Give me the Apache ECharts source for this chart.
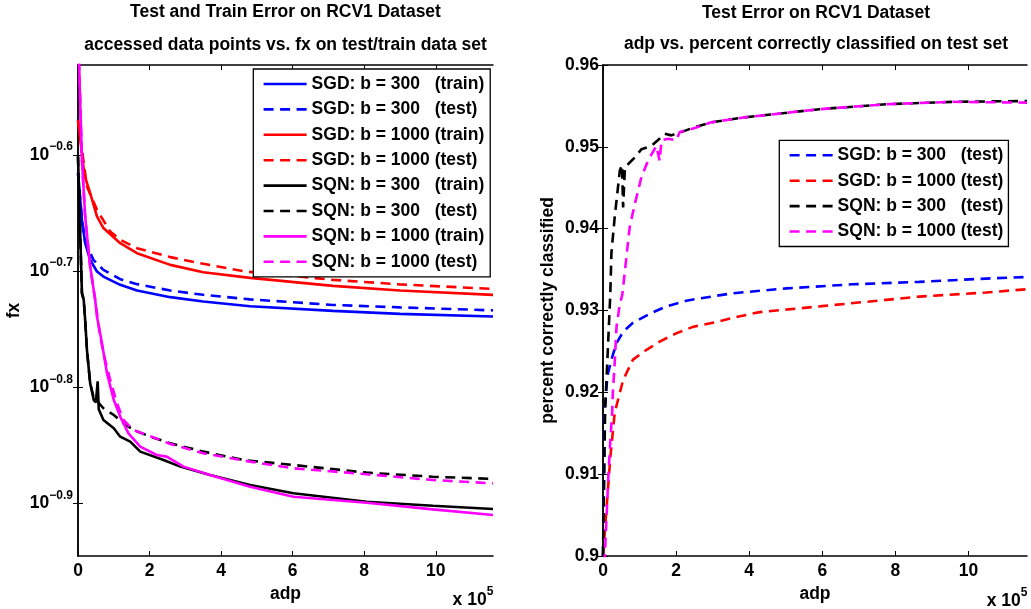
<!DOCTYPE html>
<html>
<head>
<meta charset="utf-8">
<script src="https://cdn.jsdelivr.net/npm/echarts@6/dist/echarts.min.js"></script>
<style>
html,body{margin:0;padding:0;background:#fff;}
#chart{width:1031px;height:609px;}
</style>
</head>
<body>
<div id="chart"></div>
<script>
// ---------- Tick values ----------
const xTickValues = [0, 2, 4, 6, 8, 10];           // adp, in units of 10^5
const leftYTickExponents = [-0.9, -0.8, -0.7, -0.6]; // fx ticks: 10^e
const rightYTicks = [0.9, 0.91, 0.92, 0.93, 0.94, 0.95, 0.96];

// ---------- Series names ----------
const names = [
  'SGD: b = 300   (train)', 'SGD: b = 300   (test)',
  'SGD: b = 1000 (train)', 'SGD: b = 1000 (test)',
  'SQN: b = 300   (train)', 'SQN: b = 300   (test)',
  'SQN: b = 1000 (train)', 'SQN: b = 1000 (test)'
];
const rightNames = ['SGD: b = 300   (test)', 'SGD: b = 1000 (test)', 'SQN: b = 300   (test)', 'SQN: b = 1000 (test)'];

// ---------- Left chart: adp (x 10^5) vs log10(fx) ----------
const sgd300TrainX = [0, 0.11, 0.20, 0.34, 0.53, 0.71, 1.18, 1.65, 2.58, 3.50, 4.81, 7.13, 9.0, 11.6];
const sgd300TrainLogFx = [-0.6155, -0.6558, -0.6759, -0.6903, -0.7003, -0.7047, -0.7118, -0.7167, -0.7224, -0.7262, -0.7303, -0.7342, -0.7368, -0.7391];

const sgd300TestX = [0, 0.11, 0.20, 0.43, 0.71, 1.18, 1.65, 2.58, 3.50, 4.81, 7.13, 9.0, 11.6];
const sgd300TestLogFx = [-0.6155, -0.6558, -0.674, -0.6903, -0.6989, -0.7069, -0.7112, -0.7167, -0.7204, -0.7243, -0.7291, -0.7312, -0.7338];

const sgd1000TrainX = [0, 0.18, 0.34, 0.53, 0.71, 1.18, 1.65, 2.58, 3.50, 4.81, 7.13, 9.0, 11.6];
const sgd1000TrainLogFx = [-0.57, -0.617, -0.6328, -0.6529, -0.6629, -0.6759, -0.6845, -0.6946, -0.7009, -0.7058, -0.7127, -0.7167, -0.7204];

const sgd1000TestX = [0, 0.25, 0.53, 0.90, 1.18, 1.65, 2.58, 3.50, 4.7, 7.13, 9.0, 11.6];
const sgd1000TestLogFx = [-0.57, -0.6271, -0.6472, -0.6659, -0.673, -0.6802, -0.6879, -0.6937, -0.7004, -0.7075, -0.7114, -0.7153];

const sqn300TrainX = [0, 0.11, 0.16, 0.2, 0.25, 0.34, 0.44, 0.5, 0.55, 0.58, 0.71, 1.0, 1.18, 1.46, 1.74, 2.39, 2.86, 3.69, 4.81, 6.02, 8.07, 9.92, 11.6];
const sqn300TrainLogFx = [-0.6012, -0.719, -0.7247, -0.742, -0.7678, -0.7966, -0.811, -0.813, -0.795, -0.819, -0.8282, -0.8353, -0.8426, -0.8469, -0.8555, -0.8627, -0.8684, -0.8756, -0.8842, -0.8914, -0.8986, -0.9021, -0.9049];

const sqn300TestX = [0, 0.11, 0.16, 0.2, 0.25, 0.34, 0.44, 0.55, 0.71, 1.0, 1.27, 1.55, 2.02, 2.58, 3.5, 4.7, 6.02, 8.07, 9.92, 11.6];
const sqn300TestLogFx = [-0.6012, -0.719, -0.7247, -0.742, -0.7678, -0.7966, -0.809, -0.8125, -0.8181, -0.8239, -0.831, -0.8368, -0.8426, -0.8483, -0.8555, -0.863, -0.867, -0.8736, -0.8771, -0.879];

const sqn1000TrainX = [0, 0.11, 0.2, 0.34, 0.48, 0.53, 0.67, 0.81, 1.0, 1.18, 1.41, 1.74, 2.2, 2.48, 2.95, 3.69, 4.81, 6.02, 8.07, 9.92, 11.6];
const sqn1000TrainLogFx = [-0.49, -0.604, -0.6529, -0.696, -0.7247, -0.7391, -0.762, -0.7879, -0.811, -0.8253, -0.8397, -0.8512, -0.8584, -0.8598, -0.8684, -0.8756, -0.8857, -0.8943, -0.8995, -0.9052, -0.9101];

const sqn1000TestX = [0, 0.11, 0.2, 0.34, 0.48, 0.6, 0.71, 0.9, 1.09, 1.27, 1.55, 1.93, 2.58, 3.5, 4.81, 6.02, 8.07, 9.92, 11.6];
const sqn1000TestLogFx = [-0.49, -0.604, -0.6529, -0.696, -0.7247, -0.752, -0.7707, -0.7937, -0.8138, -0.8282, -0.8368, -0.8411, -0.8489, -0.8569, -0.8641, -0.8698, -0.875, -0.8799, -0.8828];

// ---------- Right chart: adp (x 10^5) vs percent correctly classified ----------
const rSgd300X = [0, 0.03, 0.05, 0.12, 0.23, 0.37, 0.55, 0.82, 1.28, 1.73, 2.28, 3.1, 3.55, 5.01, 6.83, 8.65, 10.48, 11.6];
const rSgd300Acc = [0.9, 0.91, 0.918, 0.922, 0.924, 0.926, 0.9274, 0.9285, 0.9296, 0.9305, 0.9312, 0.9318, 0.9321, 0.9327, 0.9332, 0.9335, 0.9339, 0.9341];

const rSgd1000X = [0, 0.1, 0.2, 0.32, 0.55, 0.82, 1.19, 1.55, 2.0, 2.46, 3.1, 3.64, 4.28, 5.92, 7.74, 8.65, 10.48, 11.6];
const rSgd1000Acc = [0.9, 0.906, 0.912, 0.9175, 0.9215, 0.924, 0.9252, 0.9262, 0.9272, 0.928, 0.9286, 0.9292, 0.9298, 0.9305, 0.9313, 0.9317, 0.9322, 0.9326];

const rSqn300X = [0, 0.03, 0.06, 0.12, 0.17, 0.2, 0.23, 0.32, 0.46, 0.52, 0.55, 0.6, 0.64, 0.87, 1.05, 1.32, 1.5, 1.69, 1.87, 2.14, 2.51, 2.96, 3.87, 5.92, 7.74, 9.56, 11.6];
const rSqn300Acc = [0.9, 0.91, 0.918, 0.924, 0.929, 0.932, 0.937, 0.9414, 0.9471, 0.9478, 0.9426, 0.9475, 0.9477, 0.9487, 0.9497, 0.9501, 0.9508, 0.9516, 0.9514, 0.9518, 0.9524, 0.953, 0.9536, 0.9546, 0.9552, 0.9555, 0.9556];

const rSqn1000X = [0, 0.05, 0.1, 0.15, 0.2, 0.25, 0.27, 0.32, 0.37, 0.45, 0.53, 0.64, 0.73, 0.87, 1.05, 1.23, 1.46, 1.55, 1.6, 1.78, 2.0, 2.1, 2.51, 2.96, 3.87, 5.92, 7.74, 9.56, 11.6];
const rSqn1000Acc = [0.897, 0.9, 0.905, 0.91, 0.914, 0.9175, 0.92, 0.9236, 0.928, 0.9305, 0.932, 0.9365, 0.9402, 0.943, 0.9463, 0.9483, 0.9501, 0.9483, 0.9508, 0.951, 0.9508, 0.9518, 0.9523, 0.953, 0.9536, 0.9546, 0.9552, 0.9555, 0.9554];

// ---------- Build chart ----------
const FONT = '"Liberation Sans", Arial, Helvetica, sans-serif';
const FS = 17.5;
const DASH = [10, 6.5];
const BLUE = '#0000ff', RED = '#ff0000', BLACK = '#000000', MAGENTA = '#ff00ff';

function pairs(xs, ys) { return xs.map((x, i) => [x, ys[i]]); }

function lineSeries(name, xs, ys, color, dashed, xi, yi) {
  return {
    type: 'line', name: name, xAxisIndex: xi, yAxisIndex: yi,
    data: pairs(xs, ys), symbol: 'none', showSymbol: false, smooth: false,
    clip: true, animation: false, silent: true,
    lineStyle: { color: color, width: 2.6, type: dashed ? DASH : 'solid' },
    itemStyle: { color: color },
    emphasis: { disabled: true }
  };
}

const labelStyle = { color: '#000', fontFamily: FONT, fontWeight: 'bold', fontSize: FS };
const axisLineStyle = { lineStyle: { color: '#000', width: 1.5 } };

function xAxes(grid, showLabels) {
  return [
    {
      gridIndex: grid, type: 'value', position: 'bottom', min: 0, max: 11.6,
      axisLine: axisLineStyle,
      axisTick: { show: true, inside: true, length: 5, customValues: xTickValues, lineStyle: { color: '#000', width: 1 } },
      axisLabel: Object.assign({ customValues: xTickValues, margin: 6 }, labelStyle),
      splitLine: { show: false },
      name: 'adp', nameLocation: 'middle', nameGap: 27,
      nameTextStyle: labelStyle
    },
    {
      gridIndex: grid, type: 'value', position: 'top', min: 0, max: 11.6,
      axisLine: axisLineStyle,
      axisTick: { show: true, inside: true, length: 5, customValues: xTickValues, lineStyle: { color: '#000', width: 1 } },
      axisLabel: { show: false },
      splitLine: { show: false }
    }
  ];
}

const supRich = {
  a: { fontFamily: FONT, fontWeight: 'bold', fontSize: FS, color: '#000' },
  b: { fontFamily: FONT, fontWeight: 'bold', fontSize: 12, color: '#000', padding: [0, 0, 16, 0] }
};

const option = {
  backgroundColor: '#fff',
  animation: false,
  title: [
    { text: 'Test and Train Error on RCV1 Dataset', left: 285.5, top: 3, textAlign: 'center', padding: 0, textStyle: labelStyle },
    { text: 'accessed data points vs. fx on test/train data set', left: 285.5, top: 36, textAlign: 'center', padding: 0, textStyle: labelStyle },
    { text: 'Test Error on RCV1 Dataset', left: 816, top: 4, textAlign: 'center', padding: 0, textStyle: labelStyle },
    { text: 'adp vs. percent correctly classified on test set', left: 816, top: 35, textAlign: 'center', padding: 0, textStyle: labelStyle }
  ],
  grid: [
    { left: 78, top: 65, width: 415, height: 491 },
    { left: 603, top: 65, width: 424, height: 491 }
  ],
  xAxis: xAxes(0).concat(xAxes(1)),
  yAxis: [
    {
      gridIndex: 0, type: 'value', position: 'left', min: -0.9454, max: -0.5224,
      axisLine: axisLineStyle,
      axisTick: { show: true, inside: true, length: 5, customValues: leftYTickExponents, lineStyle: { color: '#000', width: 1 } },
      axisLabel: {
        customValues: leftYTickExponents, margin: 5,
        formatter: function (v) { return '{a|10}{b|' + v.toFixed(1).replace('-', '\u2212') + '}'; },
        rich: supRich
      },
      splitLine: { show: false },
      name: 'fx', nameLocation: 'middle', nameGap: 55, nameTextStyle: labelStyle
    },
    {
      gridIndex: 0, type: 'value', position: 'right', min: -0.9454, max: -0.5224,
      axisLine: axisLineStyle,
      axisTick: { show: true, inside: true, length: 5, customValues: leftYTickExponents, lineStyle: { color: '#000', width: 1 } },
      axisLabel: { show: false }, splitLine: { show: false }
    },
    {
      gridIndex: 1, type: 'value', position: 'left', min: 0.9, max: 0.96, interval: 0.01,
      axisLine: axisLineStyle,
      axisTick: { show: true, inside: true, length: 5, customValues: rightYTicks, lineStyle: { color: '#000', width: 1 } },
      axisLabel: Object.assign({ customValues: rightYTicks, margin: 4,
        formatter: function (v) { return String(Math.round(v * 100) / 100); } }, labelStyle),
      splitLine: { show: false },
      name: 'percent correctly classified', nameLocation: 'middle', nameGap: 46, nameTextStyle: labelStyle
    },
    {
      gridIndex: 1, type: 'value', position: 'right', min: 0.9, max: 0.96, interval: 0.01,
      axisLine: axisLineStyle,
      axisTick: { show: true, inside: true, length: 5, customValues: rightYTicks, lineStyle: { color: '#000', width: 1 } },
      axisLabel: { show: false }, splitLine: { show: false }
    }
  ],
  legend: [
    {
      data: names, orient: 'vertical', left: 253.3, top: 69,
      itemWidth: 43, itemHeight: 14, itemGap: 7.4, padding: [6, 6, 6, 9],
      borderColor: '#000', borderWidth: 1.3, backgroundColor: '#fff',
      selectedMode: false, textStyle: labelStyle,
      itemStyle: { opacity: 0 }, lineStyle: { width: 'inherit' }
    },
    {
      data: rightNames, orient: 'vertical', left: 779.3, top: 140.3,
      itemWidth: 43, itemHeight: 14, itemGap: 7.4, padding: [6, 5, 6, 9],
      borderColor: '#000', borderWidth: 1.3, backgroundColor: '#fff',
      selectedMode: false, textStyle: labelStyle,
      itemStyle: { opacity: 0 }, lineStyle: { width: 'inherit' }
    }
  ],
  graphic: [
    { type: 'text', x: 493.3, y: 600, style: { text: '{a|x 10}{b|5}', align: 'right', verticalAlign: 'middle', rich: supRich } },
    { type: 'text', x: 1027.5, y: 601, style: { text: '{a|x 10}{b|5}', align: 'right', verticalAlign: 'middle', rich: supRich } }
  ],
  series: [
    lineSeries(names[0], sgd300TrainX, sgd300TrainLogFx, BLUE, false, 0, 0),
    lineSeries(names[1], sgd300TestX, sgd300TestLogFx, BLUE, true, 0, 0),
    lineSeries(names[2], sgd1000TrainX, sgd1000TrainLogFx, RED, false, 0, 0),
    lineSeries(names[3], sgd1000TestX, sgd1000TestLogFx, RED, true, 0, 0),
    lineSeries(names[4], sqn300TrainX, sqn300TrainLogFx, BLACK, false, 0, 0),
    lineSeries(names[5], sqn300TestX, sqn300TestLogFx, BLACK, true, 0, 0),
    lineSeries(names[6], sqn1000TrainX, sqn1000TrainLogFx, MAGENTA, false, 0, 0),
    lineSeries(names[7], sqn1000TestX, sqn1000TestLogFx, MAGENTA, true, 0, 0),
    lineSeries(rightNames[0], rSgd300X, rSgd300Acc, BLUE, true, 2, 2),
    lineSeries(rightNames[1], rSgd1000X, rSgd1000Acc, RED, true, 2, 2),
    lineSeries(rightNames[2], rSqn300X, rSqn300Acc, BLACK, true, 2, 2),
    lineSeries(rightNames[3], rSqn1000X, rSqn1000Acc, MAGENTA, true, 2, 2)
  ]
};

const chart = echarts.init(document.getElementById('chart'), null, { renderer: 'canvas' });
chart.setOption(option);
</script>
</body>
</html>
